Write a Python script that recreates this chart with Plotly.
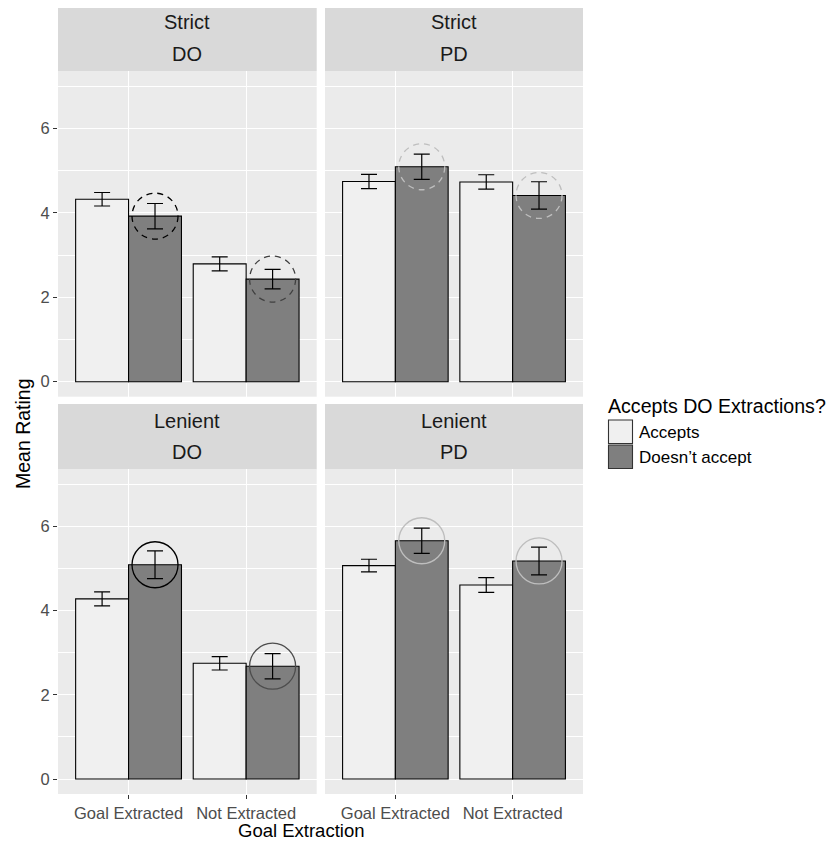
import plotly.graph_objects as go

# ---------------- data ----------------
categories = ["Goal Extracted", "Not Extracted"]
strictness = ["Strict", "Strict", "Lenient", "Lenient"]
construction = ["DO", "PD", "DO", "PD"]
groups = ["Accepts", "Doesn’t accept"]

accepts_mean = [[4.32, 2.79], [4.74, 4.73], [4.28, 2.75], [5.07, 4.61]]
accepts_se = [[0.16, 0.165], [0.17, 0.17], [0.165, 0.16], [0.15, 0.175]]
doesnt_mean = [[3.92, 2.43], [5.09, 4.41], [5.09, 2.68], [5.66, 5.18]]
doesnt_se = [[0.30, 0.23], [0.30, 0.325], [0.33, 0.30], [0.30, 0.33]]

circle_color = [["#000000", "#404040"], ["#BEBEBE", "#BEBEBE"],
                ["#000000", "#4D4D4D"], ["#BEBEBE", "#BEBEBE"]]
circle_dash = ["6px,5px", "6px,5px", "solid", "solid"]

y_ticks = [0, 2, 4, 6]

# ---------------- layout constants ----------------
FONT = "Liberation Sans, Arial, sans-serif"
OFF = 8                      # page body margin in the browser
W, H = 836 - OFF, 842 - OFF  # figure size so it fits the window
ML, MR, MT, MB = 58 - OFF, 253, 0, 48
PW = W - ML - MR
PH = H - MT - MB


def px_x(p):
    """reference-window pixel x -> paper coordinate"""
    return (p - OFF - ML) / PW


def px_y(p):
    """reference-window pixel y -> paper coordinate"""
    return (H - MB - (p - OFF)) / PH


x_domains = [[0, px_x(316.7)], [px_x(325), 1]]
plot_rows = [[px_y(396.7), px_y(71)], [0, px_y(469.3)]]
strip_rows = [[px_y(71), 1], [px_y(469.3), px_y(404)]]
strip_tops = [6, 404]

fill_colors = ["#F0F0F0", "#7F7F7F"]

fig = go.Figure()
shapes = []
annotations = []

for p in range(4):
    n = "" if p == 0 else str(p + 1)
    xa, ya = "x" + n, "y" + n
    row, col = p // 2, p % 2
    for g, (means, ses) in enumerate([(accepts_mean, accepts_se), (doesnt_mean, doesnt_se)]):
        fig.add_trace(go.Bar(
            x=categories, y=means[p], name=groups[g], offsetgroup=str(g),
            marker=dict(color=fill_colors[g], line=dict(color="black", width=1.1)),
            error_y=dict(type="data", array=ses[p], color="black", thickness=1.2, width=8),
            xaxis=xa, yaxis=ya, showlegend=False, hoverinfo="x+y",
        ))
    # circles around "Doesn't accept" bars
    for i in range(len(categories)):
        shapes.append(dict(
            type="circle", xref=xa, yref=ya, xsizemode="pixel", ysizemode="pixel",
            xanchor=i + 0.225, yanchor=doesnt_mean[p][i],
            x0=-23, x1=23, y0=-23, y1=23,
            line=dict(color=circle_color[p][i], width=1.3, dash=circle_dash[p]),
            layer="above",
        ))
    fig.update_layout(**{
        "xaxis" + n: dict(
            domain=x_domains[col], anchor=ya, type="category", range=[-0.6, 1.6],
            showgrid=True, gridcolor="white", gridwidth=1.1, zeroline=False,
            showticklabels=(row == 1), ticks="outside" if row == 1 else "",
            ticklen=4, tickwidth=1.1, tickcolor="#333333",
            tickfont=dict(family=FONT, size=16.5, color="#4D4D4D"),
            fixedrange=True,
        ),
        "yaxis" + n: dict(
            domain=plot_rows[row], anchor=xa, range=[-0.355, 7.357],
            tickmode="array", tickvals=y_ticks,
            showgrid=True, gridcolor="white", gridwidth=1.1, zeroline=False,
            minor=dict(tickmode="array", tickvals=[1, 3, 5, 7], showgrid=True,
                       gridcolor="white", gridwidth=0.55, ticks=""),
            showticklabels=(col == 0), ticks="outside" if col == 0 else "",
            ticklen=4, tickwidth=1.1, tickcolor="#333333",
            tickfont=dict(family=FONT, size=16.5, color="#4D4D4D"),
            fixedrange=True,
        ),
    })
    # strip
    d0, d1 = x_domains[col]
    s0, s1 = strip_rows[row]
    shapes.append(dict(type="rect", xref="paper", yref="paper", x0=d0, x1=d1, y0=s0, y1=s1,
                       fillcolor="#D9D9D9", line=dict(width=0), layer="below"))
    top = strip_tops[row]
    for txt, off in [(strictness[p], 16.5), (construction[p], 48)]:
        annotations.append(dict(
            text=txt, xref="paper", yref="paper", x=(d0 + d1) / 2, y=px_y(top + off),
            xanchor="center", yanchor="middle", showarrow=False,
            font=dict(family=FONT, size=20, color="#1A1A1A"),
        ))

# axis titles
annotations.append(dict(text="Goal Extraction", xref="paper", yref="paper",
                        x=px_x(301), y=px_y(830), xanchor="center", yanchor="middle",
                        showarrow=False, font=dict(family=FONT, size=18.5, color="black")))
annotations.append(dict(text="Mean Rating", xref="paper", yref="paper",
                        x=px_x(23), y=px_y(434), xanchor="center", yanchor="middle",
                        textangle=-90, showarrow=False,
                        font=dict(family=FONT, size=19.5, color="black")))

# legend (drawn manually to mimic ggplot keys)
annotations.append(dict(text="Accepts DO Extractions?", xref="paper", yref="paper",
                        x=px_x(606), y=px_y(406), xanchor="left", yanchor="middle",
                        showarrow=False, font=dict(family=FONT, size=19.6, color="black")))
key_tops = [420, 445]
for g in range(2):
    t = key_tops[g]
    shapes.append(dict(type="rect", xref="paper", yref="paper",
                       x0=px_x(608.5), x1=px_x(632.5), y0=px_y(t + 23.5), y1=px_y(t),
                       fillcolor=fill_colors[g], line=dict(color="#333333", width=1.1)))
    annotations.append(dict(text=groups[g], xref="paper", yref="paper",
                            x=px_x(637), y=px_y(t + 12.5), xanchor="left", yanchor="middle",
                            showarrow=False, font=dict(family=FONT, size=17, color="black")))

fig.update_layout(
    width=W, height=H,
    margin=dict(l=ML, r=MR, t=MT, b=MB, pad=0),
    paper_bgcolor="white", plot_bgcolor="#EBEBEB",
    barmode="group", bargap=0.1, bargroupgap=0,
    showlegend=False,
    shapes=shapes, annotations=annotations,
    font=dict(family=FONT),
)

fig.write_html("out.html")
